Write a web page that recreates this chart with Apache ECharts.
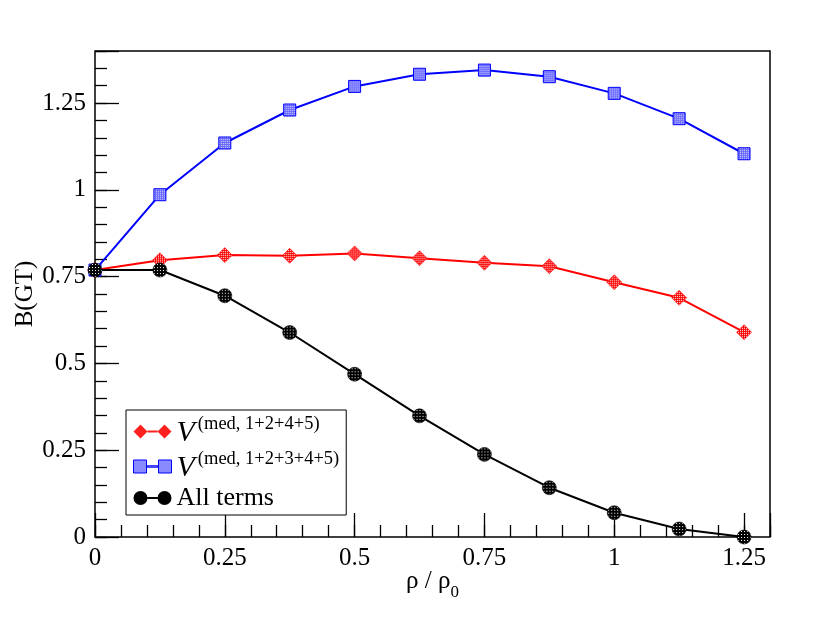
<!DOCTYPE html>
<html>
<head>
<meta charset="utf-8">
<script src="https://cdn.jsdelivr.net/npm/echarts@6/dist/echarts.min.js"></script>
<style>
    html, body { margin: 0; padding: 0; background: #fff; }
    #chart { width: 817px; height: 632px; }
</style>
</head>
<body>
<div id="chart"></div>
<script>
// density rho / rho0
var rhoValues = [0, 0.125, 0.25, 0.375, 0.5, 0.625, 0.75, 0.875, 1.0, 1.125, 1.25];
// B(GT) for the three cases
var bgtMed1245 = [0.769, 0.797, 0.812, 0.810, 0.817, 0.803, 0.790, 0.780, 0.734, 0.689, 0.590];
var bgtMed12345 = [0.769, 0.986, 1.135, 1.230, 1.298, 1.333, 1.345, 1.326, 1.278, 1.205, 1.104];
var bgtAllTerms = [0.769, 0.769, 0.695, 0.589, 0.469, 0.349, 0.238, 0.142, 0.070, 0.023, 0.0];
var seriesNames = ['V(med, 1+2+4+5)', 'V(med, 1+2+3+4+5)', 'All terms'];

var FONT = "'Liberation Serif', 'Times New Roman', serif";

// dotted fill for symbols; symbols are drawn in a unit box scaled by size/2,
// so the pattern is scaled back to screen pixels
function makePattern(bg, dot, size, symbolSize) {
    var c = document.createElement('canvas');
    c.width = size;
    c.height = size;
    var ctx = c.getContext('2d');
    ctx.fillStyle = bg;
    ctx.fillRect(0, 0, size, size);
    ctx.fillStyle = dot;
    ctx.fillRect(0, 0, 1, 1);
    var s = 2 / symbolSize;
    return { image: c, repeat: 'repeat', scaleX: s, scaleY: s };
}

function pairs(xs, ys) {
    var out = [];
    for (var i = 0; i < xs.length; i++) {
        out.push([xs[i], ys[i]]);
    }
    return out;
}

// label-only axis (no ticks)
function labelAxis(dim, pos) {
    return {
        type: 'value',
        position: pos,
        min: 0,
        max: dim == 'x' ? 1.3 : 1.4,
        interval: 0.25,
        axisLine: { show: false },
        splitLine: { show: false },
        axisTick: { show: false },
        axisLabel: { show: true, showMaxLabel: false, color: '#000', fontFamily: FONT, fontSize: 25, margin: 9 }
    };
}

// tick-only axis pushed inward by its tick length so ticks point into the plot
function tickAxis(dim, pos, interval, len) {
    return {
        type: 'value',
        position: pos,
        offset: -len,
        min: 0,
        max: dim == 'x' ? 1.3 : 1.4,
        interval: interval,
        axisLine: { show: false },
        splitLine: { show: false },
        axisTick: { show: true, inside: false, length: len, lineStyle: { color: '#000', width: 1.3 } },
        axisLabel: { show: false }
    };
}

var xAxes = [
    labelAxis('x', 'bottom'),
    tickAxis('x', 'bottom', 0.25, 12),
    tickAxis('x', 'bottom', 0.05, 6),
    tickAxis('x', 'top', 0.25, 12),
    tickAxis('x', 'top', 0.05, 6)
];
xAxes[0].name = '{a|ρ / ρ}{b|0}';
xAxes[0].nameLocation = 'middle';
xAxes[0].nameGap = 32;
xAxes[0].nameMoveOverlap = false;
xAxes[0].nameTextStyle = {
    color: '#000',
    rich: {
        a: { fontFamily: FONT, fontSize: 25, color: '#000', verticalAlign: 'top', lineHeight: 32 },
        b: { fontFamily: FONT, fontSize: 17, color: '#000', verticalAlign: 'bottom', lineHeight: 32 }
    }
};

var yAxes = [
    labelAxis('y', 'left'),
    tickAxis('y', 'left', 0.25, 12),
    tickAxis('y', 'left', 0.05, 6),
    tickAxis('y', 'right', 0.25, 12),
    tickAxis('y', 'right', 0.05, 6)
];
yAxes[0].name = 'B(GT)';
yAxes[0].nameLocation = 'middle';
yAxes[0].nameGap = 57;
yAxes[0].nameMoveOverlap = false;
yAxes[0].nameTextStyle = { color: '#000', fontFamily: FONT, fontSize: 25 };

var iconDiamonds = 'path://M0 7L7 0L14 7L7 14ZM14 6L24 6L24 8L14 8ZM24 7L31 0L38 7L31 14Z';
var iconSquares = 'path://M0 0L13 0L13 13L0 13ZM13 5.8L25 5.8L25 7.2L13 7.2ZM25 0L38 0L38 13L25 13Z';
var iconCircles = 'path://M0 7A7 7 0 1 1 14 7A7 7 0 1 1 0 7ZM14 6L24 6L24 8L14 8ZM24 7A7 7 0 1 1 38 7A7 7 0 1 1 24 7Z';

var chart = echarts.init(document.getElementById('chart'));
var option = {
    backgroundColor: '#fff',
    animation: false,
    grid: {
        left: 95, right: 47, top: 51, bottom: 95,
        show: true, borderColor: '#000', borderWidth: 1.5, backgroundColor: 'transparent'
    },
    xAxis: xAxes,
    yAxis: yAxes,
    legend: {
        orient: 'vertical',
        left: 126,
        top: 410,
        padding: [5, 7, 4, 7],
        itemGap: 2,
        itemWidth: 38,
        itemHeight: 14,
        borderColor: '#000',
        borderWidth: 1,
        backgroundColor: '#fff',
        selectedMode: false,
        data: [
            { name: seriesNames[0], icon: iconDiamonds, itemStyle: { color: '#ff2020', borderWidth: 0 } },
            { name: seriesNames[1], icon: iconSquares, itemStyle: { color: '#8a8aff', borderColor: '#0000ff', borderWidth: 1 } },
            { name: seriesNames[2], icon: iconCircles, itemStyle: { color: '#000', borderWidth: 0 } }
        ],
        formatter: function (name) {
            if (name.charAt(0) == 'V') {
                return '{v|V}{s|' + name.substring(1) + '}';
            }
            return '{t|' + name + '}';
        },
        textStyle: {
            color: '#000',
            rich: {
                v: { fontFamily: FONT, fontStyle: 'italic', fontSize: 30, color: '#000', verticalAlign: 'bottom', lineHeight: 33, padding: [0, 3, 0, 0] },
                s: { fontFamily: FONT, fontSize: 18.5, color: '#000', verticalAlign: 'top', lineHeight: 33 },
                t: { fontFamily: FONT, fontSize: 26, color: '#000', lineHeight: 30 }
            }
        }
    },
    series: [
        {
            name: seriesNames[0],
            type: 'line',
            data: pairs(rhoValues, bgtMed1245),
            symbol: 'diamond',
            symbolSize: 15,
            lineStyle: { color: '#ff0000', width: 2 },
            itemStyle: { color: makePattern('#ff0000', '#ffffff', 2, 15), borderColor: '#ff0000', borderWidth: 0.6 },
            z: 2
        },
        {
            name: seriesNames[1],
            type: 'line',
            data: pairs(rhoValues, bgtMed12345),
            symbol: 'rect',
            symbolSize: 12,
            lineStyle: { color: '#0000ff', width: 2 },
            itemStyle: { color: makePattern('#6a6aff', '#d0d0ff', 2, 12), borderColor: '#0000ff', borderWidth: 1 },
            z: 3
        },
        {
            name: seriesNames[2],
            type: 'line',
            data: pairs(rhoValues, bgtAllTerms),
            symbol: 'circle',
            symbolSize: 14,
            lineStyle: { color: '#000', width: 2 },
            itemStyle: { color: makePattern('#000000', '#ffffff', 3, 14), borderColor: '#000', borderWidth: 0.6 },
            z: 4
        }
    ]
};
chart.setOption(option);
</script>
</body>
</html>
